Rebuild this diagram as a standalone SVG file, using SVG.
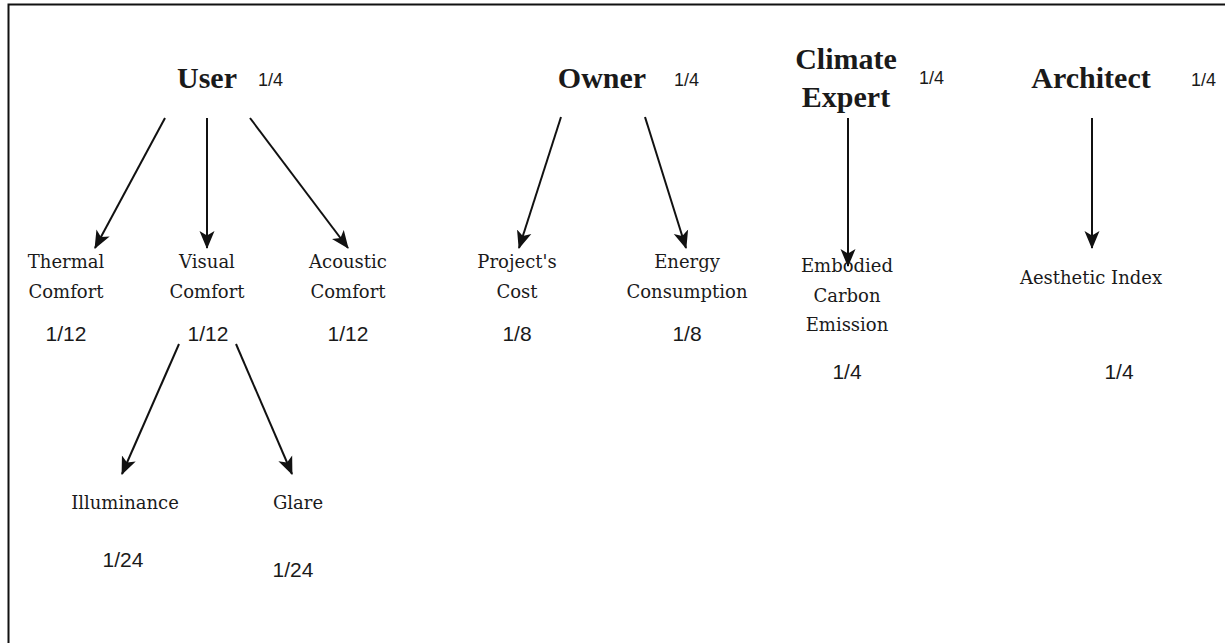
<svg xmlns="http://www.w3.org/2000/svg" width="1225" height="643" viewBox="0 0 1225 643">
  <style>
    .head { font-family: "Liberation Serif", "Times New Roman", serif; font-size: 30px; font-weight: bold; fill: #1a1a1a; text-anchor: middle; }
    .sub { font-family: "DejaVu Serif", "Liberation Serif", serif; font-size: 18px; fill: #1a1a1a; text-anchor: middle; }
    .wt { font-family: "Liberation Sans", Arial, sans-serif; font-size: 21px; fill: #1a1a1a; text-anchor: middle; }
    .wt-head { font-family: "Liberation Sans", Arial, sans-serif; font-size: 18px; fill: #1a1a1a; }
    .link { stroke: #111; stroke-width: 2; fill: none; marker-end: url(#arrow); }
  </style>
  <defs>
    <marker id="arrow" markerUnits="userSpaceOnUse" markerWidth="18" markerHeight="16" viewBox="0 0 18 16" refX="17" refY="8" orient="auto">
      <path d="M0,0.5 L18,8 L0,15.5 L4.5,8 z" fill="#111"/>
    </marker>
  </defs>

  <rect width="1225" height="643" fill="#ffffff"/>
  <!-- frame: top and left edges -->
  <path d="M8.5,643 L8.5,4.5 L1225,4.5" stroke="#111" stroke-width="2" fill="none"/>

  <!-- connectors -->
  <g id="connectors">
    <line class="link" x1="165" y1="118" x2="95" y2="248"/>
    <line class="link" x1="207" y1="118" x2="207" y2="248"/>
    <line class="link" x1="250" y1="118" x2="348" y2="248"/>
    <line class="link" x1="179" y1="344" x2="122" y2="474"/>
    <line class="link" x1="236" y1="344" x2="292" y2="474"/>
    <line class="link" x1="561" y1="117" x2="519" y2="248"/>
    <line class="link" x1="645" y1="117" x2="686" y2="248"/>
    <line class="link" x1="848" y1="118" x2="848" y2="266"/>
    <line class="link" x1="1092" y1="118" x2="1092" y2="248"/>
  </g>

  <!-- stakeholders -->
  <g id="user">
    <text class="head" x="207" y="88">User</text>
    <text class="wt-head" x="258" y="86">1/4</text>
  </g>
  <g id="owner">
    <text class="head" x="602" y="88">Owner</text>
    <text class="wt-head" x="674" y="86">1/4</text>
  </g>
  <g id="climate-expert">
    <text class="head" x="846" y="69">Climate</text>
    <text class="head" x="846" y="107">Expert</text>
    <text class="wt-head" x="919" y="84">1/4</text>
  </g>
  <g id="architect">
    <text class="head" x="1091" y="88">Architect</text>
    <text class="wt-head" x="1191" y="86">1/4</text>
  </g>

  <!-- criteria -->
  <g id="thermal-comfort">
    <text class="sub" x="66" y="268">Thermal</text>
    <text class="sub" x="66" y="298">Comfort</text>
    <text class="wt" x="66" y="341">1/12</text>
  </g>
  <g id="visual-comfort">
    <text class="sub" x="207" y="268">Visual</text>
    <text class="sub" x="207" y="298">Comfort</text>
    <text class="wt" x="208" y="341">1/12</text>
  </g>
  <g id="acoustic-comfort">
    <text class="sub" x="348" y="268">Acoustic</text>
    <text class="sub" x="348" y="298">Comfort</text>
    <text class="wt" x="348" y="341">1/12</text>
  </g>
  <g id="illuminance">
    <text class="sub" x="125" y="509">Illuminance</text>
    <text class="wt" x="123" y="567">1/24</text>
  </g>
  <g id="glare">
    <text class="sub" x="298" y="509">Glare</text>
    <text class="wt" x="293" y="577">1/24</text>
  </g>
  <g id="project-cost">
    <text class="sub" x="517" y="268">Project's</text>
    <text class="sub" x="517" y="298">Cost</text>
    <text class="wt" x="517" y="341">1/8</text>
  </g>
  <g id="energy-consumption">
    <text class="sub" x="687" y="268">Energy</text>
    <text class="sub" x="687" y="298">Consumption</text>
    <text class="wt" x="687" y="341">1/8</text>
  </g>
  <g id="embodied-carbon">
    <text class="sub" x="847" y="272">Embodied</text>
    <text class="sub" x="847" y="302">Carbon</text>
    <text class="sub" x="847" y="331">Emission</text>
    <text class="wt" x="847" y="379">1/4</text>
  </g>
  <g id="aesthetic-index">
    <text class="sub" x="1091" y="284">Aesthetic Index</text>
    <text class="wt" x="1119" y="379">1/4</text>
  </g>
</svg>
